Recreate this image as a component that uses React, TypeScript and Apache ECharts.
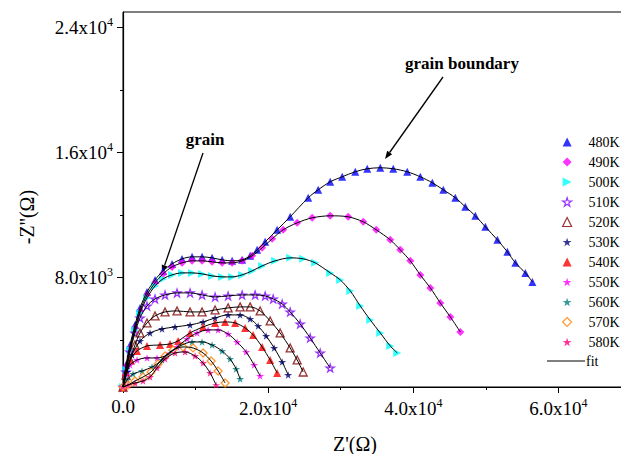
import React, { useEffect, useRef } from "react";
import * as echarts from "echarts";

// ---- data (Z' , -Z'') ----
const temperatures = ["480K", "490K", "500K", "510K", "520K", "530K", "540K", "550K", "560K", "570K", "580K"];

const s480 = [
  [0, 1000], [414, 2410], [966, 3690], [1655, 4972], [2345, 6060], [3310, 7087], [4414, 7855], [5517, 8432],
  [6759, 8880], [8138, 9200], [9517, 9330], [10896, 9330], [12276, 9265], [13655, 9137], [15034, 9073],
  [16414, 9137], [17517, 9393], [18483, 9778], [19586, 10290], [21241, 11059], [23034, 11892], [25517, 13110],
  [26896, 13622], [28552, 14134], [30207, 14455], [32000, 14775], [33655, 14967], [35448, 15032], [37241, 14967],
  [39172, 14775], [40965, 14455], [42621, 14070], [44138, 13622], [45793, 13110], [47172, 12532], [48552, 11956],
  [49931, 11251], [51586, 10418], [52965, 9650], [54069, 8945], [55448, 8304], [56414, 7727],
];
const s490 = [
  [0, 1000], [414, 2281], [966, 3499], [1655, 4780], [2345, 5869], [3310, 6894], [4414, 7663], [5517, 8240],
  [6759, 8688], [8138, 8945], [9517, 9073], [10896, 9073], [12276, 9009], [13655, 8945], [15034, 8945],
  [16414, 9073], [17793, 9393], [19172, 9906], [20552, 10482], [22069, 11059], [24000, 11507], [26069, 11828],
  [28552, 11956], [31034, 11892], [33103, 11571], [34897, 11059], [36827, 10418], [38207, 9778], [39586, 9073],
  [40965, 8176], [42345, 7343], [43724, 6382], [45103, 5485], [46483, 4524],
];
const s500 = [
  [0, 1000], [414, 2089], [966, 3371], [1655, 4652], [2345, 5741], [3310, 6702], [4414, 7471], [5517, 7920],
  [6759, 8176], [8138, 8304], [9517, 8304], [10896, 8240], [12276, 8112], [13655, 8048], [15034, 8048],
  [16414, 8176], [17793, 8432], [19172, 8752], [20966, 9073], [23034, 9265], [24828, 9201], [26483, 8945],
  [28552, 8304], [29931, 7855], [31310, 7151], [32690, 6190], [34069, 5293], [35448, 4460], [36827, 3627],
  [37793, 3178],
];
const s510 = [
  [0, 1000], [414, 1961], [966, 3243], [1655, 4460], [2345, 5421], [3310, 6190], [4414, 6638], [5793, 6894],
  [7448, 7023], [9241, 7023], [10896, 6894], [12690, 6766], [14483, 6830], [16414, 6894], [18207, 6894],
  [19586, 6830], [20690, 6638], [21931, 6318], [23034, 5805], [24414, 5036], [25793, 4139], [27172, 3178],
  [28552, 2217],
];
const s520 = [
  [0, 1000], [414, 1769], [966, 2730], [1655, 3691], [2345, 4460], [3310, 5101], [4414, 5549], [5793, 5805],
  [7448, 5869], [9241, 5805], [10896, 5805], [12690, 5933], [14483, 6062], [16138, 6126], [17517, 6126],
  [18896, 5869], [20276, 5229], [21655, 4460], [23034, 3499], [24000, 2730], [24828, 1961],
];
const s530 = [
  [0, 1000], [552, 1961], [1241, 3050], [2345, 3947], [3724, 4460], [5379, 4716], [7172, 4844], [9241, 4972],
  [11034, 5165], [12690, 5421], [14483, 5613], [16138, 5613], [17517, 5357], [18620, 4908], [19724, 4268],
  [20828, 3499], [21931, 2602], [22759, 1769],
];
const s540 = [
  [0, 1000], [414, 1961], [966, 2730], [1931, 3307], [3310, 3627], [5103, 3691], [6483, 3755], [7586, 3947],
  [9241, 4460], [11034, 4844], [12690, 5101], [14069, 5165], [15448, 5101], [16828, 4780], [17931, 4332],
  [19172, 3563], [20276, 2730], [21241, 1897],
];
const s550 = [
  [0, 1000], [414, 1769], [966, 2410], [1931, 2730], [3310, 2858], [4690, 2858], [6069, 3050], [7448, 3563],
  [8828, 4075], [10207, 4460], [11724, 4652], [13103, 4652], [14483, 4396], [15724, 3883], [16966, 3243],
  [18069, 2410], [18896, 1705],
];
const s560 = [
  [0, 1000], [552, 1448], [1379, 1833], [2621, 2025], [4000, 2281], [5379, 2730], [6759, 3307], [8138, 3691],
  [9517, 3883], [10896, 3883], [12276, 3691], [13655, 3307], [14758, 2794], [15586, 2153], [16138, 1513],
];
const s570 = [
  [0, 1000], [690, 1128], [1655, 1384], [2759, 1641], [3862, 1961], [4828, 2474], [5793, 2986], [6897, 3371],
  [8276, 3563], [9655, 3499], [11034, 3178], [12138, 2666], [13103, 2025], [14069, 1256],
];
const s580 = [
  [0, 1000], [690, 1128], [1655, 1256], [2759, 1384], [3724, 1641], [4690, 2217], [5793, 2794], [7172, 3178],
  [8552, 3243], [9931, 2986], [11034, 2538], [12000, 1897], [12828, 1128],
];
const allSeries = [s480, s490, s500, s510, s520, s530, s540, s550, s560, s570, s580];

const xTicks = [0, 20000, 40000, 60000];
const xMinorTicks = [10000, 30000, 50000];
const yTicks = [8000, 16000, 24000];
const yMinorTicks = [4000, 12000, 20000];

// ---- styles ----
const STAR = "path://M50,0L61,35L98,35L68,57L79,91L50,70L21,91L32,57L2,35L39,35Z";
const RTRI = "path://M0,0L10,5L0,10Z";
const markerStyles = [
  { color: "#0000ff", symbol: "triangle", hollow: false },
  { color: "#ff00ff", symbol: "diamond", hollow: false },
  { color: "#00ffff", symbol: RTRI, hollow: false },
  { color: "#8000ff", symbol: STAR, hollow: true },
  { color: "#800000", symbol: "triangle", hollow: true },
  { color: "#000080", symbol: STAR, hollow: false },
  { color: "#ff0000", symbol: "triangle", hollow: false },
  { color: "#ff00ff", symbol: STAR, hollow: false },
  { color: "#008080", symbol: STAR, hollow: false },
  { color: "#ff8000", symbol: "diamond", hollow: true },
  { color: "#ff0080", symbol: STAR, hollow: false },
];

const FONT = "'Liberation Serif', 'Times New Roman', serif";

function sci(v: number): string {
  if (v === 0) return "{b|0.0}";
  const e = Math.floor(Math.log10(Math.abs(v)));
  const m = (v / Math.pow(10, e)).toFixed(1);
  return `{b|${m}x10}{s|${e}}`;
}
const labelRich = {
  b: { fontFamily: FONT, fontSize: 19, color: "#000" },
  s: { fontFamily: FONT, fontSize: 12, color: "#000", padding: [0, 0, 11, 0] },
};

export default function App() {
  const ref = useRef<HTMLDivElement>(null);
  useEffect(() => {
    if (!ref.current) return;
    const chart = echarts.init(ref.current, undefined, { renderer: "svg" });
    const scatter = allSeries.map((d, i) => {
      const st = markerStyles[i];
      return {
        type: "scatter",
        name: temperatures[i],
        data: d,
        symbol: st.symbol,
        symbolSize: 8,
        symbolKeepAspect: true,
        itemStyle: st.hollow
          ? { color: "#ffffff", borderColor: st.color, borderWidth: 1.3 }
          : { color: st.color },
        z: 2,
      };
    });
    const fits = allSeries.map((d) => ({
      type: "line",
      name: "fit",
      data: d,
      smooth: 0.3,
      symbol: "none",
      showSymbol: false,
      lineStyle: { color: "#000", width: 1 },
      itemStyle: { color: "#000" },
      z: 3,
    }));
    const legendText = { fontFamily: FONT, fontSize: 14, color: "#000" };
    const legendItems = temperatures.map((t, i) =>
      markerStyles[i].hollow
        ? { name: t, itemStyle: { color: "#ffffff", borderColor: markerStyles[i].color, borderWidth: 1.2 } }
        : { name: t }
    );
    const option: any = {
      animation: false,
      backgroundColor: "#fff",
      textStyle: { fontFamily: FONT },
      grid: {
        left: 123, top: 12, width: 508, height: 375,
        containLabel: false, outerBoundsMode: "none",
        show: true, borderColor: "#000", borderWidth: 1,
      },
      xAxis: [
        {
          type: "value",
          min: 0,
          max: 70000,
          axisLine: { show: true, lineStyle: { color: "#000", width: 1.2 } },
          axisTick: { show: true, customValues: xTicks, length: 6, lineStyle: { color: "#000" } },
          axisLabel: { customValues: xTicks, formatter: sci, rich: labelRich, margin: 10, fontFamily: FONT, fontSize: 19, color: "#000" },
          splitLine: { show: false },
        },
        {
          type: "value",
          min: 0,
          max: 70000,
          position: "bottom",
          axisLine: { show: false },
          axisTick: { show: true, customValues: xMinorTicks, length: 3, lineStyle: { color: "#000" } },
          axisLabel: { show: false },
          splitLine: { show: false },
        },
      ],
      yAxis: [
        {
          type: "value",
          min: 1000,
          max: 25000,
          axisLine: { show: true, lineStyle: { color: "#000", width: 1.2 } },
          axisTick: { show: true, customValues: yTicks, length: 6, lineStyle: { color: "#000" } },
          axisLabel: { customValues: yTicks, formatter: sci, rich: labelRich, margin: 10, fontFamily: FONT, fontSize: 19, color: "#000" },
          splitLine: { show: false },
        },
        {
          type: "value",
          min: 1000,
          max: 25000,
          position: "left",
          axisLine: { show: false },
          axisTick: { show: true, customValues: yMinorTicks, length: 3, lineStyle: { color: "#000" } },
          axisLabel: { show: false },
          splitLine: { show: false },
        },
      ],
      legend: [
        {
          data: legendItems,
          orient: "vertical",
          left: 557,
          top: 130,
          padding: 5,
          itemWidth: 9,
          itemHeight: 9,
          itemGap: 6,
          selectedMode: false,
          textStyle: { ...legendText, padding: [0, 0, 0, 12] },
        },
        {
          data: [{ name: "fit", icon: "rect" }],
          orient: "vertical",
          left: 542,
          top: 349,
          padding: 5,
          itemWidth: 38,
          itemHeight: 1.2,
          itemGap: 0,
          selectedMode: false,
          textStyle: { ...legendText, padding: [0, 0, 0, -4] },
        },
      ],
      graphic: [
        { type: "text", x: 27, y: 217, rotation: Math.PI / 2, style: { text: "-Z''(Ω)", fontFamily: FONT, fontSize: 20, fill: "#000", align: "center", verticalAlign: "middle" } },
        { type: "text", x: 355, y: 444, style: { text: "Z'(Ω)", fontFamily: FONT, fontSize: 20, fill: "#000", align: "center", verticalAlign: "middle" } },
        { type: "text", x: 205, y: 139, style: { text: "grain", fontFamily: FONT, fontSize: 17, fontWeight: "bold", fill: "#000", align: "center", verticalAlign: "middle" } },
        { type: "text", x: 462, y: 63, style: { text: "grain boundary", fontFamily: FONT, fontSize: 17, fontWeight: "bold", fill: "#000", align: "center", verticalAlign: "middle" } },
        { type: "line", shape: { x1: 203, y1: 153, x2: 164.6, y2: 265.4 }, style: { stroke: "#000", lineWidth: 1.3 } },
        { type: "polygon", shape: { points: [[162, 273], [167.4, 266.4], [161.8, 264.4]] }, style: { fill: "#000" } },
        { type: "line", shape: { x1: 443, y1: 77, x2: 389.6, y2: 152.5 }, style: { stroke: "#000", lineWidth: 1.3 } },
        { type: "polygon", shape: { points: [[385, 159], [392.1, 154.2], [387.2, 150.8]] }, style: { fill: "#000" } },
      ],
      series: [...scatter, ...fits],
    };
    chart.setOption(option);
    return () => chart.dispose();
  }, []);
  return <div ref={ref} style={{ position: "fixed", left: 0, top: 0, width: 621, height: 454 }} />;
}
